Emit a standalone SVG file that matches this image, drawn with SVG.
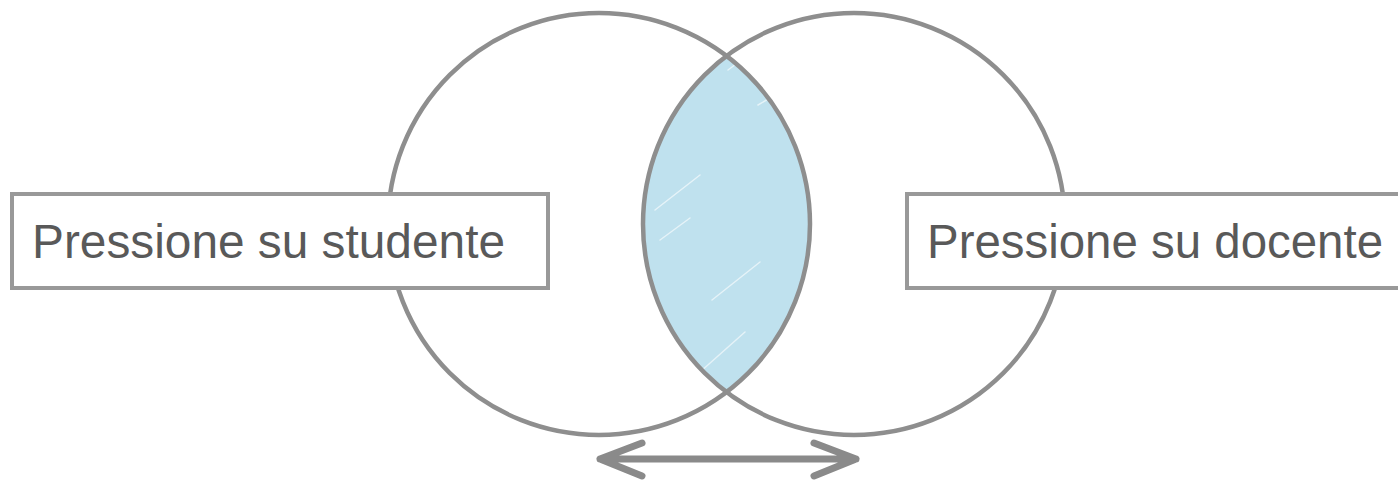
<svg xmlns="http://www.w3.org/2000/svg" width="1398" height="482" viewBox="0 0 1398 482">
  <style>
    .circle { fill: none; stroke: #8e8e8e; stroke-width: 4.5; }
    .box { fill: #ffffff; stroke: #999999; stroke-width: 4; }
    .boxedge { fill: none; stroke: #999999; stroke-width: 4; }
    .label { font-family: "Liberation Sans", Arial, sans-serif; font-size: 48px; fill: #595959; }
    .arrow { fill: none; stroke: #8a8a8a; stroke-width: 7; stroke-linecap: round; stroke-linejoin: round; }
  </style>
  <rect width="1398" height="482" fill="#ffffff"/>
  <g id="overlap">
    <path d="M726.5,56 A211,211 0 0 0 726.5,392 A211,211 0 0 0 726.5,56 Z" fill="#bfe1ee"/>
    <g stroke="#ffffff" stroke-width="1.5" opacity="0.6" stroke-linecap="round">
      <line x1="728" y1="70" x2="736" y2="64"/>
      <line x1="758" y1="105" x2="770" y2="98"/>
      <line x1="655" y1="210" x2="700" y2="175"/>
      <line x1="660" y1="240" x2="690" y2="218"/>
      <line x1="700" y1="372" x2="745" y2="332"/>
      <line x1="712" y1="300" x2="760" y2="262"/>
    </g>
  </g>
  <g id="circle-studente">
    <circle class="circle" cx="599" cy="224" r="211"/>
  </g>
  <g id="circle-docente">
    <circle class="circle" cx="854" cy="224" r="211"/>
  </g>
  <g id="node-studente">
    <rect class="box" x="12" y="194" width="536" height="94"/>
    <text class="label" x="32" y="258" textLength="473" lengthAdjust="spacingAndGlyphs">Pressione su studente</text>
  </g>
  <g id="node-docente">
    <rect x="907" y="194" width="491" height="94" fill="#ffffff"/>
    <path class="boxedge" d="M1398,194 H907 V288 H1398"/>
    <text class="label" x="927" y="258" textLength="456" lengthAdjust="spacingAndGlyphs">Pressione su docente</text>
  </g>
  <g id="connectors">
    <path class="arrow" d="M600,459 L856,459 M642,443 L600,459 L642,476 M814,443 L856,459 L814,476"/>
  </g>
</svg>
